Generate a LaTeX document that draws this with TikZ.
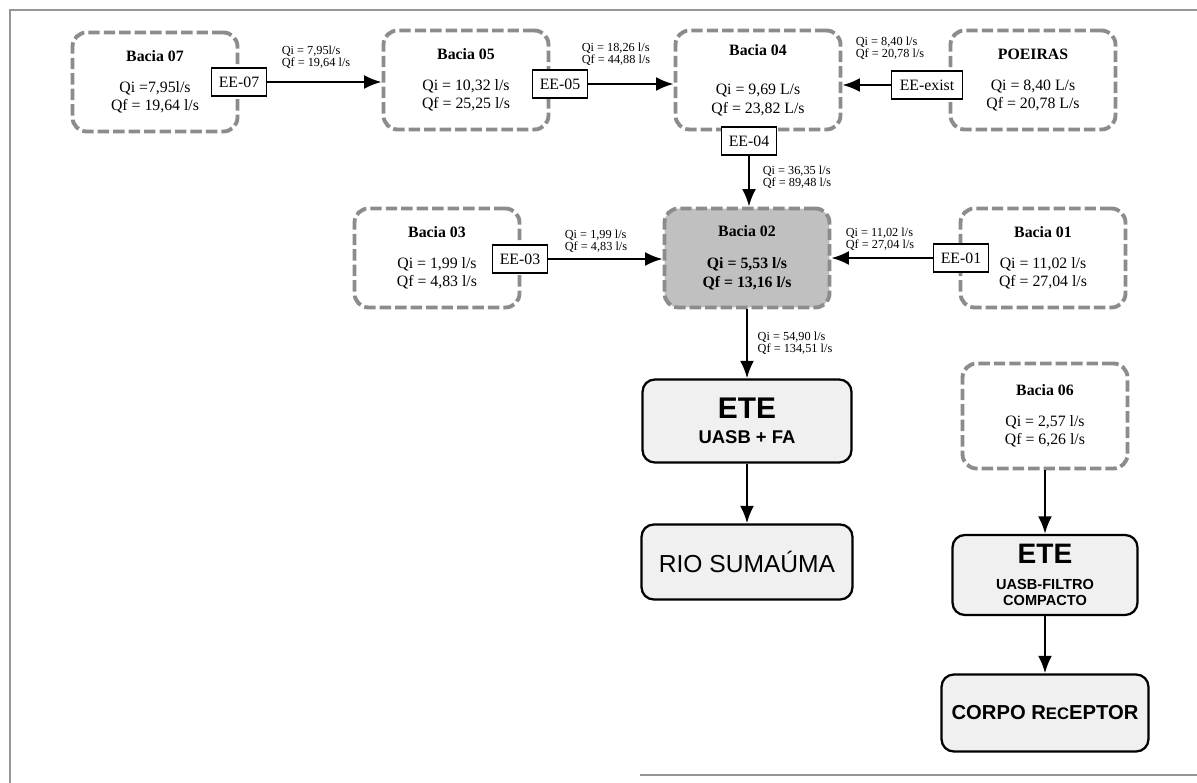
\documentclass[tikz,border=0pt]{standalone}
\usepackage{fontspec}
\setmainfont{Liberation Serif}
\setsansfont{Liberation Sans}
\usepackage{tikz}
\usetikzlibrary{arrows.meta}

\definecolor{tracejado}{RGB}{140,140,140}
\definecolor{moldura}{RGB}{150,150,150}
\definecolor{cinzaescuro}{RGB}{192,192,192}
\definecolor{cinzaclaro}{RGB}{240,240,240}

\begin{document}
\begin{tikzpicture}[x=0.02cm,y=-0.02cm,
	bacia/.style={draw=tracejado,line width=2.2pt,dash pattern=on 6.5pt off 2.3pt,rounded corners=8pt,fill=white,minimum width=3.3cm,minimum height=1.98cm,align=center,font=\fontsize{9}{10.5}\selectfont},
	bomba/.style={draw,line width=1.1pt,fill=white,minimum height=0.56cm,minimum width=1.1cm,inner sep=2pt,font=\fontsize{9}{10}\selectfont},
	ete/.style={draw,line width=1.3pt,rounded corners=7pt,fill=cinzaclaro,align=center,font=\sffamily\bfseries},
	vazao/.style={align=left,font=\fontsize{7}{7}\selectfont,inner sep=0pt},
	seta/.style={line width=1.4pt,-{Latex[length=10pt,width=8pt]}}]
				\useasboundingbox (0,0) rectangle (1197,783);
				% moldura
				\draw[moldura,line width=1.5pt] (10,783) -- (10,10) -- (1197,10);
				\draw[moldura,line width=1pt] (640,775) -- (1197,775);
				
				% bacias
				\node[bacia] (bacia07) at (155,82) {\textbf{Bacia 07}\\[7pt] Qi =7,95l/s\\ Qf = 19,64 l/s};
				\node[bacia] (bacia05) at (466,80) {\textbf{Bacia 05}\\[7pt] Qi = 10,32 l/s\\ Qf = 25,25 l/s};
				\node[bacia] (bacia04) at (758,80) {\textbf{Bacia 04}\\[12pt] Qi = 9,69 L/s\\ Qf = 23,82 L/s};
				\node[bacia] (poeiras) at (1033,80) {\textbf{POEIRAS}\\[7pt] Qi = 8,40 L/s\\ Qf = 20,78 L/s};
				\node[bacia] (bacia03) at (437,258) {\textbf{Bacia 03}\\[7pt] Qi = 1,99 l/s\\ Qf = 4,83 l/s};
				\node[bacia,fill=cinzaescuro,font=\fontsize{9}{11}\selectfont\bfseries] (bacia02) at (747,258) {Bacia 02\\[7pt] Qi = 5,53 l/s\\ Qf = 13,16 l/s};
				\node[bacia] (bacia01) at (1043,258) {\textbf{Bacia 01}\\[7pt] Qi = 11,02 l/s\\ Qf = 27,04 l/s};
				\node[bacia,minimum height=2.1cm] (bacia06) at (1045,416) {\textbf{Bacia 06}\\[7pt] Qi = 2,57 l/s\\ Qf = 6,26 l/s};
				
				% elevatorias
				\node[bomba] (ee07) at (239,82) {EE-07};
				\node[bomba] (ee05) at (560,84) {EE-05};
				\node[bomba] (ee04) at (749,141) {EE-04};
				\node[bomba,minimum width=1.42cm] (eeexist) at (927,85) {EE-exist};
				\node[bomba] (ee03) at (520,259) {EE-03};
				\node[bomba] (ee01) at (961,258) {EE-01};
				
				% tratamento
				\node[ete,minimum width=4.18cm,minimum height=1.66cm] (ete1) at (747,421) {{\fontsize{17}{19}\selectfont ETE}\\[2pt]{\fontsize{10.5}{12}\selectfont UASB + FA}};
				\node[ete,minimum width=4.22cm,minimum height=1.5cm,font=\sffamily\fontsize{14}{16}\selectfont] (rio) at (747,562) {RIO SUMAÚMA};
				\node[ete,minimum width=3.7cm,minimum height=1.6cm,font=\sffamily\bfseries\fontsize{8.3}{9}\selectfont] (ete2) at (1045,575) {{\fontsize{16}{16}\selectfont ETE}\\[6pt]UASB-FILTRO\\COMPACTO};
				\node[ete,minimum width=4.14cm,minimum height=1.54cm,font=\sffamily\bfseries\fontsize{11.5}{13}\selectfont] (corpo) at (1045,713) {CORPO R{\fontsize{9.5}{11}\selectfont EC}EPTOR};
				
				% vazoes
				\node[vazao] (q07) at (316,57) {Qi = 7,95l/s\\ Qf = 19,64 l/s};
				\node[vazao] (q05) at (616,54) {Qi = 18,26 l/s\\ Qf = 44,88 l/s};
				\node[vazao] (qexist) at (890,48) {Qi = 8,40 l/s\\ Qf = 20,78 l/s};
				\node[vazao] (q04) at (797,177) {Qi = 36,35 l/s\\ Qf = 89,48 l/s};
				\node[vazao] (q03) at (596,241) {Qi = 1,99 l/s\\ Qf = 4,83 l/s};
				\node[vazao] (q01) at (880,239) {Qi = 11,02 l/s\\ Qf = 27,04 l/s};
				\node[vazao] (q02) at (795,343) {Qi = 54,90 l/s\\ Qf = 134,51 l/s};
				
				% setas
				\draw[seta] (ee07.east) -- (ee07.east -| bacia05.west);
				\draw[seta] (ee05.east) -- (ee05.east -| bacia04.west);
				\draw[seta] (eeexist.west) -- (eeexist.west -| bacia04.east);
				\draw[seta] (ee04.south) -- (ee04.south |- bacia02.north);
				\draw[seta] (ee03.east) -- (ee03.east -| bacia02.west);
				\draw[seta] (ee01.west) -- (ee01.west -| bacia02.east);
				\draw[seta] (bacia02.south) -- (ete1.north);
				\draw[seta] (ete1.south) -- (rio.north);
				\draw[seta] (bacia06.south) -- (ete2.north);
				\draw[seta] (ete2.south) -- (corpo.north);
			\end{tikzpicture}
\end{document}
